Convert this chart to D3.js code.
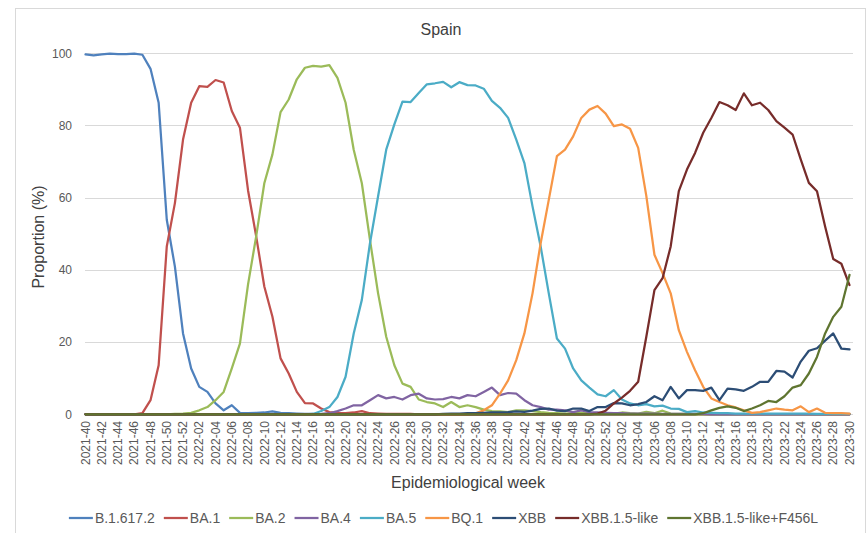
<!DOCTYPE html>
<html>
<head>
<meta charset="utf-8">
<script src="https://cdn.jsdelivr.net/npm/d3@7"></script>
<style>
  body { margin: 0; background: #fff; }
  text { font-family: "Liberation Sans", Arial, sans-serif; }
</style>
</head>
<body>
<div id="chart"></div>
<script>
// epidemiological weeks, 2021-40 .. 2023-30
const weeks = [
  "2021-40","2021-41","2021-42","2021-43","2021-44","2021-45","2021-46","2021-47","2021-48","2021-49",
  "2021-50","2021-51","2021-52","2022-01","2022-02","2022-03","2022-04","2022-05","2022-06","2022-07",
  "2022-08","2022-09","2022-10","2022-11","2022-12","2022-13","2022-14","2022-15","2022-16","2022-17",
  "2022-18","2022-19","2022-20","2022-21","2022-22","2022-23","2022-24","2022-25","2022-26","2022-27",
  "2022-28","2022-29","2022-30","2022-31","2022-32","2022-33","2022-34","2022-35","2022-36","2022-37",
  "2022-38","2022-39","2022-40","2022-41","2022-42","2022-43","2022-44","2022-45","2022-46","2022-47",
  "2022-48","2022-49","2022-50","2022-51","2022-52","2023-01","2023-02","2023-03","2023-04","2023-05",
  "2023-06","2023-07","2023-08","2023-09","2023-10","2023-11","2023-12","2023-13","2023-14","2023-15",
  "2023-16","2023-17","2023-18","2023-19","2023-20","2023-21","2023-22","2023-23","2023-24","2023-25",
  "2023-26","2023-27","2023-28","2023-29","2023-30"
];

const b16172 = [
  99.7, 99.4, 99.7, 99.9, 99.8, 99.8, 99.9, 99.6, 95.7, 86.3,
  53.9, 40.9, 22.4, 12.7, 7.6, 6.2, 3.0, 1.1, 2.5, 0.4,
  0.3, 0.4, 0.5, 0.8, 0.4, 0.3, 0.2, 0.1, 0.1, 0,
  0, 0, 0, 0, 0, 0, 0, 0, 0, 0,
  0, 0, 0, 0, 0, 0, 0, 0, 0, 0,
  0, 0, 0, 0, 0, 0, 0, 0, 0, 0,
  0, 0, 0, 0, 0, 0, 0, 0, 0, 0,
  0, 0, 0, 0, 0, 0, 0, 0, 0, 0,
  0, 0, 0, 0, 0, 0, 0, 0, 0, 0,
  0, 0, 0, 0, 0
];
const ba1 = [
  0, 0, 0, 0, 0, 0, 0, 0.3, 3.9, 13.6,
  46.5, 58.5, 76.1, 86.3, 90.9, 90.7, 92.6, 91.9, 84.0, 79.4,
  62.0, 49.3, 35.4, 27.0, 15.5, 11.3, 6.2, 3.1, 3.0, 1.6,
  0.6, 0.4, 0.3, 0.5, 0.9, 0.3, 0.2, 0.1, 0.1, 0.1,
  0.1, 0, 0, 0, 0, 0, 0, 0, 0, 0,
  0, 0, 0, 0, 0, 0, 0, 0, 0, 0,
  0, 0, 0, 0, 0, 0, 0, 0, 0, 0,
  0, 0, 0, 0, 0, 0, 0, 0, 0, 0,
  0, 0, 0, 0, 0, 0, 0, 0, 0, 0,
  0, 0, 0, 0, 0
];
const ba2 = [
  0, 0, 0, 0, 0, 0, 0, 0, 0, 0,
  0, 0.1, 0.2, 0.4, 1.1, 2.0, 3.9, 6.2, 12.7, 19.6,
  36.0, 49.3, 64.0, 72.0, 83.7, 87.2, 92.8, 96.0, 96.5, 96.3,
  96.7, 93.2, 86.3, 73.3, 64.0, 48.3, 33.5, 21.5, 13.6, 8.5,
  7.6, 4.1, 3.4, 3.0, 2.0, 3.4, 2.0, 2.5, 2.0, 1.3,
  0.9, 0.8, 0.6, 1.1, 1.1, 0.9, 0.6, 0.4, 0.3, 0.2,
  0.3, 0.4, 0.3, 0.2, 0.3, 0.2, 0.5, 0.3, 0.2, 0.7,
  0.3, 1.0, 0.2, 0.1, 0.1, 0, 0, 0, 0, 0,
  0, 0, 0, 0, 0, 0, 0, 0, 0, 0,
  0, 0, 0, 0, 0
];
const ba4 = [
  0, 0, 0, 0, 0, 0, 0, 0, 0, 0,
  0, 0, 0, 0, 0, 0, 0, 0, 0, 0,
  0, 0, 0, 0, 0, 0, 0, 0, 0, 0.1,
  0.3, 0.9, 1.6, 2.5, 2.5, 3.9, 5.3, 4.4, 4.8, 4.1,
  5.3, 5.7, 4.4, 4.1, 4.2, 4.8, 4.4, 5.3, 5.0, 6.2,
  7.4, 5.3, 5.9, 5.7, 3.9, 2.5, 2.0, 1.3, 1.3, 1.1,
  0.6, 1.1, 0.6, 0.5, 0.4, 0.3, 0.3, 0.2, 0.2, 0.2,
  0.2, 0.1, 0.1, 0.1, 0.1, 0.1, 0.1, 0, 0, 0,
  0, 0, 0, 0, 0, 0, 0, 0, 0, 0,
  0, 0, 0, 0, 0
];
const ba5 = [
  0, 0, 0, 0, 0, 0, 0, 0, 0, 0,
  0, 0, 0, 0, 0, 0, 0, 0, 0, 0,
  0, 0, 0, 0, 0, 0, 0, 0, 0.1, 0.9,
  2.0, 4.8, 10.4, 22.4, 31.7, 47.4, 60.4, 73.3, 80.3, 86.6,
  86.5, 89.0, 91.4, 91.7, 92.1, 90.6, 92.0, 91.2, 91.1, 90.2,
  86.8, 84.9, 82.1, 76.1, 69.6, 57.6, 46.5, 33.5, 21.0, 18.2,
  12.7, 9.4, 7.4, 5.5, 5.0, 6.7, 4.1, 3.0, 2.5, 2.8,
  2.2, 2.4, 1.6, 1.5, 0.6, 0.9, 0.5, 0.4, 0.3, 0.3,
  0.2, 0.2, 0.2, 0.2, 0.2, 0.2, 0.2, 0.2, 0.2, 0.2,
  0.1, 0.1, 0.1, 0.1, 0.1
];
const bq1 = [
  0, 0, 0, 0, 0, 0, 0, 0, 0, 0,
  0, 0, 0, 0, 0, 0, 0, 0, 0, 0,
  0, 0, 0, 0, 0, 0, 0, 0, 0, 0,
  0, 0, 0, 0, 0, 0, 0, 0, 0, 0,
  0, 0, 0, 0, 0, 0, 0, 0, 0.3, 1.1,
  2.5, 5.7, 9.4, 15.0, 22.4, 33.5, 47.4, 59.4, 71.5, 73.3,
  77.0, 82.1, 84.4, 85.4, 83.3, 79.8, 80.3, 79.1, 73.8, 60.5,
  44.2, 39.1, 33.5, 23.3, 17.3, 12.2, 7.6, 4.4, 3.4, 2.5,
  1.9, 1.1, 0.4, 0.6, 1.1, 1.6, 1.3, 1.1, 2.2, 0.6,
  1.6, 0.4, 0.3, 0.3, 0.2
];
const xbb = [
  0, 0, 0, 0, 0, 0, 0, 0, 0, 0,
  0, 0, 0, 0, 0, 0, 0, 0, 0, 0,
  0, 0, 0, 0, 0, 0, 0, 0, 0, 0,
  0, 0, 0, 0, 0, 0, 0, 0, 0, 0,
  0, 0, 0, 0, 0.1, 0.2, 0.2, 0.3, 0.3, 0.4,
  0.5, 0.5, 0.6, 0.8, 0.7, 1.0, 1.5, 1.6, 1.0, 0.9,
  1.6, 1.6, 0.9, 2.0, 2.0, 3.1, 3.0, 2.5, 2.8, 3.4,
  5.0, 3.9, 7.6, 4.4, 6.7, 6.7, 6.5, 7.4, 3.9, 7.1,
  6.9, 6.5, 7.6, 9.0, 9.0, 12.0, 11.8, 10.2, 14.6, 17.6,
  18.3, 20.4, 22.4, 18.2, 18.0
];
const xbb15 = [
  0, 0, 0, 0, 0, 0, 0, 0, 0, 0,
  0, 0, 0, 0, 0, 0, 0, 0, 0, 0,
  0, 0, 0, 0, 0, 0, 0, 0, 0, 0,
  0, 0, 0, 0, 0, 0, 0, 0, 0, 0,
  0, 0, 0, 0, 0, 0, 0, 0, 0, 0,
  0, 0, 0, 0, 0, 0, 0, 0, 0, 0,
  0, 0, 0, 0.2, 1.0, 3.0, 4.6, 6.5, 9.0, 21.5,
  34.4, 37.7, 46.5, 61.8, 67.8, 72.4, 78.0, 82.1, 86.5, 85.6,
  84.3, 88.9, 85.6, 86.3, 84.3, 81.2, 79.4, 77.5, 70.6, 64.1,
  61.8, 52.0, 43.0, 41.7, 35.8
];
const xbb15f = [
  0, 0, 0, 0, 0, 0, 0, 0, 0, 0,
  0, 0, 0, 0, 0, 0, 0, 0, 0, 0,
  0, 0, 0, 0, 0, 0, 0, 0, 0, 0,
  0, 0, 0, 0, 0, 0, 0, 0, 0, 0,
  0, 0, 0, 0, 0, 0, 0, 0, 0, 0,
  0, 0, 0, 0, 0, 0, 0, 0, 0, 0,
  0, 0, 0, 0, 0, 0, 0, 0, 0, 0,
  0, 0, 0, 0, 0, 0, 0.3, 1.1, 1.8, 2.2,
  1.8, 0.9, 1.6, 2.5, 3.7, 3.4, 5.0, 7.4, 8.1, 11.3,
  15.9, 22.4, 27.0, 29.8, 38.6
];

const seriesNames = ["B.1.617.2", "BA.1", "BA.2", "BA.4", "BA.5", "BQ.1", "XBB", "XBB.1.5-like", "XBB.1.5-like+F456L"];
const seriesValues = [b16172, ba1, ba2, ba4, ba5, bq1, xbb, xbb15, xbb15f];
const colors = ["#4F81BD", "#C0504D", "#9BBB59", "#8064A2", "#4BACC6", "#F79646", "#2C4D75", "#772C2A", "#5F7530"];
const yTicks = [0, 20, 40, 60, 80, 100];

const width = 866, height = 533;

const svg = d3.select("#chart").append("svg")
    .attr("width", width)
    .attr("height", height);

// outer chart border
svg.append("rect")
    .attr("x", 15.5).attr("y", 8.5)
    .attr("width", 850).attr("height", 530)
    .attr("fill", "none")
    .attr("stroke", "#d9d9d9");

const x = d3.scalePoint().domain(weeks).range([85.5, 849.5]);
const y = d3.scaleLinear().domain([0, 100]).range([414.3, 53.3]);

// gridlines
svg.append("g")
    .selectAll("line")
    .data(yTicks)
    .enter().append("line")
    .attr("x1", 85).attr("x2", 853)
    .attr("y1", d => Math.round(y(d)) + 0.5)
    .attr("y2", d => Math.round(y(d)) + 0.5)
    .attr("stroke", "#d9d9d9")
    .attr("stroke-width", 1);

// y tick labels
svg.append("g")
    .selectAll("text")
    .data(yTicks)
    .enter().append("text")
    .attr("x", 72)
    .attr("y", d => y(d))
    .attr("dy", "0.35em")
    .attr("text-anchor", "end")
    .style("font-size", "12px")
    .style("fill", "#595959")
    .text(d => d);

// x tick labels (every 2nd week)
svg.append("g")
    .selectAll("text")
    .data(weeks.filter((w, i) => i % 2 == 0))
    .enter().append("text")
    .attr("transform", d => "translate(" + x(d) + ",421) rotate(-90)")
    .attr("dy", "0.35em")
    .attr("text-anchor", "end")
    .style("font-size", "12px")
    .style("fill", "#595959")
    .text(d => d);

// lines
const line = d3.line()
    .x((d, i) => x(weeks[i]))
    .y(d => y(d));

svg.append("g")
    .selectAll("path")
    .data(seriesValues)
    .enter().append("path")
    .attr("d", line)
    .attr("fill", "none")
    .attr("stroke", (d, i) => colors[i])
    .attr("stroke-width", 2.25)
    .attr("stroke-linejoin", "round")
    .attr("stroke-linecap", "round");

// titles
svg.append("text")
    .attr("x", 441).attr("y", 35)
    .attr("text-anchor", "middle")
    .style("font-size", "16px")
    .style("fill", "#404040")
    .text("Spain");

svg.append("text")
    .attr("x", 468).attr("y", 488)
    .attr("text-anchor", "middle")
    .style("font-size", "16px")
    .style("fill", "#404040")
    .text("Epidemiological week");

svg.append("text")
    .attr("transform", "translate(44,237) rotate(-90)")
    .attr("text-anchor", "middle")
    .style("font-size", "16px")
    .style("fill", "#404040")
    .text("Proportion (%)");

// legend
const legend = svg.append("g");
let lx = 0;
seriesNames.forEach((name, i) => {
    const item = legend.append("g").attr("transform", "translate(" + lx + ",0)");
    item.append("line")
        .attr("x1", 0).attr("x2", 24)
        .attr("y1", 0).attr("y2", 0)
        .attr("stroke", colors[i])
        .attr("stroke-width", 2.25);
    const t = item.append("text")
        .attr("x", 26)
        .attr("dy", "0.35em")
        .style("font-size", "14px")
        .style("fill", "#595959")
        .text(name);
    lx += 26 + t.node().getComputedTextLength() + 9;
});
const legendW = lx - 9;
legend.attr("transform", "translate(" + (443.5 - legendW / 2) + ",518)");
</script>
</body>
</html>
